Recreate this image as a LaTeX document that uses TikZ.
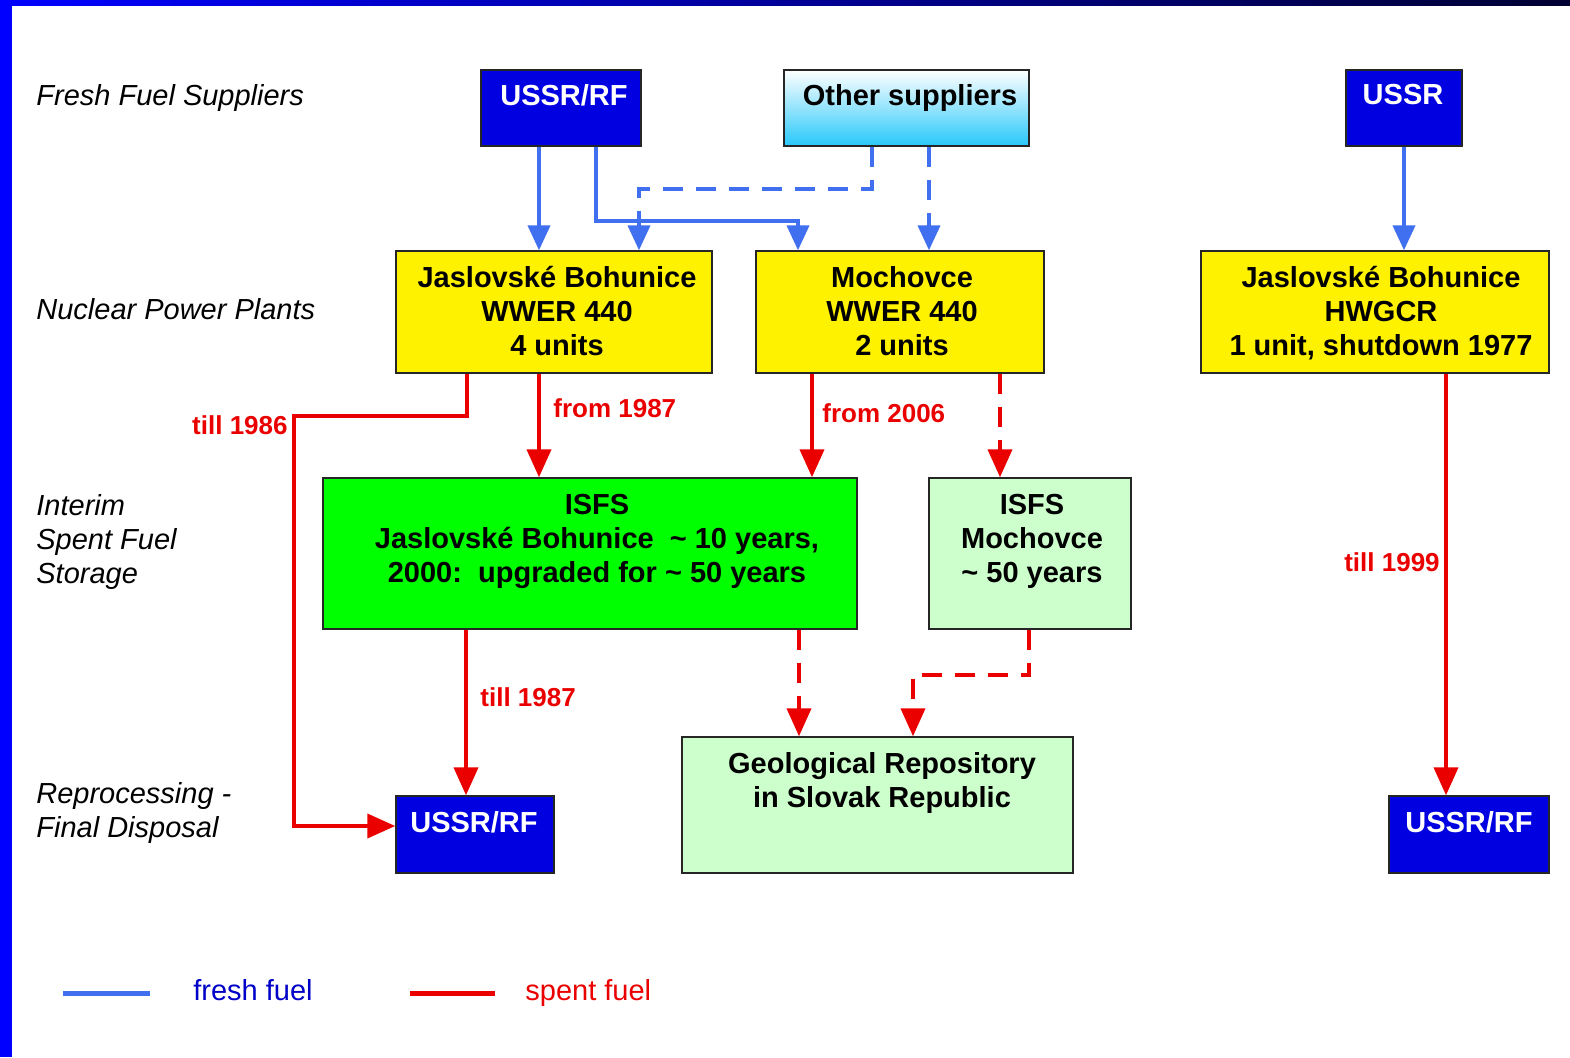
\documentclass[tikz,border=0pt]{standalone}
\usepackage{fontspec}
\setmainfont{Liberation Sans}
\usetikzlibrary{arrows.meta}
\definecolor{boxblue}{RGB}{0,0,225}
\definecolor{fuelblue}{RGB}{64,112,240}
\definecolor{fuelred}{RGB}{235,0,0}
\definecolor{lightgr}{RGB}{204,255,204}
\definecolor{brightgr}{RGB}{0,255,0}
\definecolor{skycyan}{RGB}{40,200,250}
\definecolor{legblue}{RGB}{0,0,200}
\definecolor{barblue}{RGB}{0,0,255}
\definecolor{barnavy}{RGB}{0,0,50}
\begin{document}
\begin{tikzpicture}[x=0.5pt,y=-0.5pt,
  box/.style={draw=black!85, line width=0.7pt, rectangle, inner sep=0pt},
  bluebox/.style={box, fill=boxblue},
  yelbox/.style={box, fill=yellow},
  grbox/.style={box, fill=brightgr},
  lgbox/.style={box, fill=lightgr},
  cybox/.style={box, top color=white, middle color=white!60!skycyan, bottom color=skycyan},
  btxt/.style={font=\fontsize{14.5}{17}\selectfont\bfseries, align=center, inner sep=0pt},
  wtxt/.style={btxt, text=white},
  rowlab/.style={font=\fontsize{14.5}{17}\selectfont\itshape, align=left, anchor=west, inner sep=0pt},
  yrlab/.style={font=\fontsize{13}{15}\selectfont\bfseries, text=fuelred, inner sep=0pt},
  legtxt/.style={font=\fontsize{14.5}{17}\selectfont, anchor=base west, inner sep=0pt},
  fresh/.style={draw=fuelblue, line width=2pt, -{Triangle[width=11pt,length=12.5pt]}},
  spent/.style={draw=fuelred, line width=2pt, -{Triangle[width=12pt,length=14pt]}},
  dsh/.style={dash pattern=on 10pt off 6.5pt}
]
\useasboundingbox (0,0) rectangle (1570,1057);
\fill[white] (0,0) rectangle (1570,1057);
% slide frame
\shade[left color=barblue, right color=barnavy] (0,0) rectangle (1570,5);
\fill[barblue] (0,0) rectangle (12,1057);

% row labels
\node[rowlab] (r1) at (36,98) {Fresh Fuel Suppliers};
\node[rowlab] (r2) at (36,309) {Nuclear Power Plants};
\node[rowlab] (r3) at (36,542) {Interim\\Spent Fuel\\Storage};
\node[rowlab] (r4) at (36,813) {Reprocessing -\\Final Disposal};

% boxes
\node[bluebox, minimum width=80pt, minimum height=38pt] (u1) at (561,108) {};
\node[cybox, minimum width=122.5pt, minimum height=38pt] (os) at (906.5,108) {};
\node[bluebox, minimum width=58pt, minimum height=38pt] (u2) at (1404,108) {};
\node[yelbox, minimum width=158pt, minimum height=61pt] (jb) at (554,312) {};
\node[yelbox, minimum width=144pt, minimum height=61pt] (mo) at (900,312) {};
\node[yelbox, minimum width=174pt, minimum height=61pt] (hw) at (1375,312) {};
\node[grbox, minimum width=267pt, minimum height=75.5pt] (isj) at (590,553.5) {};
\node[lgbox, minimum width=101pt, minimum height=75.5pt] (ism) at (1030,553.5) {};
\node[lgbox, minimum width=195.5pt, minimum height=68pt] (geo) at (877.5,805) {};
\node[bluebox, minimum width=79pt, minimum height=38.5pt] (u3) at (475,834.5) {};
\node[bluebox, minimum width=80pt, minimum height=38.5pt] (u4) at (1469,834.5) {};

% box texts
\node[wtxt] (tu1) at (564,95) {USSR/RF};
\node[btxt] (tos) at (910,98) {Other suppliers};
\node[wtxt] (tu2) at (1403,95) {USSR};
\node[btxt] (tjb) at (557,311) {Jaslovské Bohunice\\WWER 440\\4 units};
\node[btxt] (tmo) at (902,311) {Mochovce\\WWER 440\\2 units};
\node[btxt] (thw) at (1381,313) {Jaslovské Bohunice\\HWGCR\\1 unit, shutdown 1977};
\node[btxt] (tisj) at (597,541) {ISFS\\Jaslovské Bohunice\ \ \textasciitilde\ 10 years,\\2000:\ \ upgraded for \textasciitilde\ 50 years};
\node[btxt] (tism) at (1032,541) {ISFS\\Mochovce\\\textasciitilde\ 50 years};
\node[btxt] (tgeo) at (882,783) {Geological Repository\\in Slovak Republic};
\node[wtxt] (tu3) at (474,822) {USSR/RF};
\node[wtxt] (tu4) at (1469,822) {USSR/RF};

% fresh fuel connectors
\draw[fresh] (539,0 |- u1.south) -- (539,0 |- jb.north);
\draw[fresh] (596,0 |- u1.south) |- (798,221) -- (798,0 |- mo.north);
\draw[fresh, dsh] (872,0 |- os.south) |- (639,189) -- (639,0 |- jb.north);
\draw[fresh, dsh] (929,0 |- os.south) -- (929,0 |- mo.north);
\draw[fresh] (u2.south) -- (u2.south |- hw.north);

% spent fuel connectors
\draw[spent] (467,0 |- jb.south) |- (294,416) |- (u3.west |- 0,826);
\draw[spent] (539,0 |- jb.south) -- (539,0 |- isj.north);
\draw[spent] (812,0 |- mo.south) -- (812,0 |- isj.north);
\draw[spent, dsh] (1000,0 |- mo.south) -- (1000,0 |- ism.north);
\draw[spent] (466,0 |- isj.south) -- (466,0 |- u3.north);
\draw[spent, dsh] (799,0 |- isj.south) -- (799,0 |- geo.north);
\draw[spent, dsh] (1029,0 |- ism.south) |- (913,675) -- (913,0 |- geo.north);
\draw[spent] (1446,0 |- hw.south) -- (1446,0 |- u4.north);

% year labels
\node[yrlab, anchor=east] (l86) at (288,425) {till 1986};
\node[yrlab, anchor=west] (l87) at (553,408) {from 1987};
\node[yrlab, anchor=west] (l06) at (822,413) {from 2006};
\node[yrlab, anchor=west] (lt87) at (480,697) {till 1987};
\node[yrlab] (l99) at (1392,562) {till 1999};

% legend
\draw[fuelblue, line width=2.5pt] (63,993) -- (150,993);
\node[legtxt, text=legblue] (lf) at (193,1000) {fresh fuel};
\draw[fuelred, line width=2.5pt] (410,993) -- (495,993);
\node[legtxt, text=fuelred] (ls) at (525,1000) {spent fuel};
\end{tikzpicture}
\end{document}
